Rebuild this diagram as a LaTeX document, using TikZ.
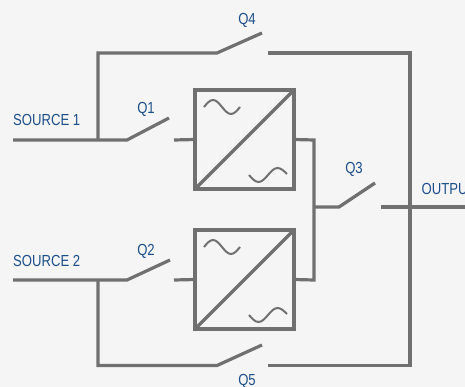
\documentclass[tikz,border=0pt]{standalone}
\usepackage{fontspec}
\newfontfamily\labfont[FakeStretch=0.82]{Liberation Sans}
\definecolor{bgc}{HTML}{F5F5F5}
\definecolor{wire}{HTML}{707070}
\definecolor{labc}{HTML}{1D4E89}
\begin{document}
\begin{tikzpicture}[x=1pt,y=-1pt,
  wirestyle/.style={draw=wire,line width=3.2pt},
  wavestyle/.style={draw=wire,line width=2pt},
  conv/.style={draw=wire,line width=3.2pt,minimum width=99pt,minimum height=99pt,inner sep=0pt,outer sep=0pt},
  lab/.style={text=labc,inner sep=0pt,font=\labfont\fontsize{16}{19}\selectfont}]
\useasboundingbox (0,0) rectangle (465,387);
\clip (0,0) rectangle (465,387);
\fill[bgc] (0,0) rectangle (465,387);

% converters
\node[conv] (b1) at (244.5,139.5) {};
\node[conv] (b2) at (244.5,279.5) {};
\draw[wirestyle] (b1.south west) -- (b1.north east);
\draw[wirestyle] (b2.south west) -- (b2.north east);
\draw[wavestyle] (204,107) sin (213,100) cos (222,107) sin (231,114) cos (240,107);
\draw[wavestyle] (249,175) sin (258.5,182) cos (268,175) sin (277.5,168) cos (287,174);
\draw[wavestyle] (204,247) sin (213,240) cos (222,247) sin (231,254) cos (240,247);
\draw[wavestyle] (249,315) sin (258.5,322) cos (268,315) sin (277.5,308) cos (287,314);

% coordinates
\coordinate (s1) at (13,140);
\coordinate (q1a) at (127,140);
\coordinate (q1b) at (169,118);
\coordinate (q1c) at (174,140);
\coordinate (j1) at (98,140);
\coordinate (tl) at (98,53);
\coordinate (q4a) at (217,53);
\coordinate (q4b) at (262,33);
\coordinate (q4c) at (268,53);
\coordinate (tr) at (410,53);
\coordinate (br) at (410,365.5);
\coordinate (q5c) at (268,365.5);
\coordinate (q5a) at (217,365.5);
\coordinate (q5b) at (262,345);
\coordinate (bl) at (98,365.5);
\coordinate (j2) at (98,280);
\coordinate (s2) at (13,280);
\coordinate (q2a) at (127,280);
\coordinate (q2b) at (170,260);
\coordinate (q2c) at (174,280);
\coordinate (m1) at (314,140);
\coordinate (m2) at (314,280);
\coordinate (m3) at (314,207);
\coordinate (q3a) at (339,207);
\coordinate (q3b) at (375,183);
\coordinate (q3c) at (381,207);
\coordinate (out) at (466,207);

% wires
\draw[wirestyle] (s1) -- (q1a) -- (q1b);
\draw[wirestyle] (q1c) -- (b1.west);
\draw[wirestyle] (j1) -- (tl) -- (q4a) -- (q4b);
\draw[wirestyle] (q4c) -- (tr) -- (br) -- (q5c);
\draw[wirestyle] (q5b) -- (q5a) -- (bl) -- (j2);
\draw[wirestyle] (s2) -- (q2a) -- (q2b);
\draw[wirestyle] (q2c) -- (b2.west);
\draw[wirestyle] (b1.east) -- (m1) -- (m2) -- (b2.east);
\draw[wirestyle] (m3) -- (q3a) -- (q3b);
\draw[wirestyle] (q3c) -- (out);

% labels
\node[lab,anchor=base west] (ls1) at (13,126) {SOURCE 1};
\node[lab,anchor=base west] (ls2) at (13,266.5) {SOURCE 2};
\node[lab,anchor=base] (lq1) at (146,113.5) {Q1};
\node[lab,anchor=base] (lq2) at (146,255) {Q2};
\node[lab,anchor=base] (lq3) at (354,173.5) {Q3};
\node[lab,anchor=base] (lq4) at (247,24.5) {Q4};
\node[lab,anchor=base] (lq5) at (247,385) {Q5};
\node[lab,anchor=base west] (lout) at (421.5,195) {OUTPUT};
\end{tikzpicture}
\end{document}
